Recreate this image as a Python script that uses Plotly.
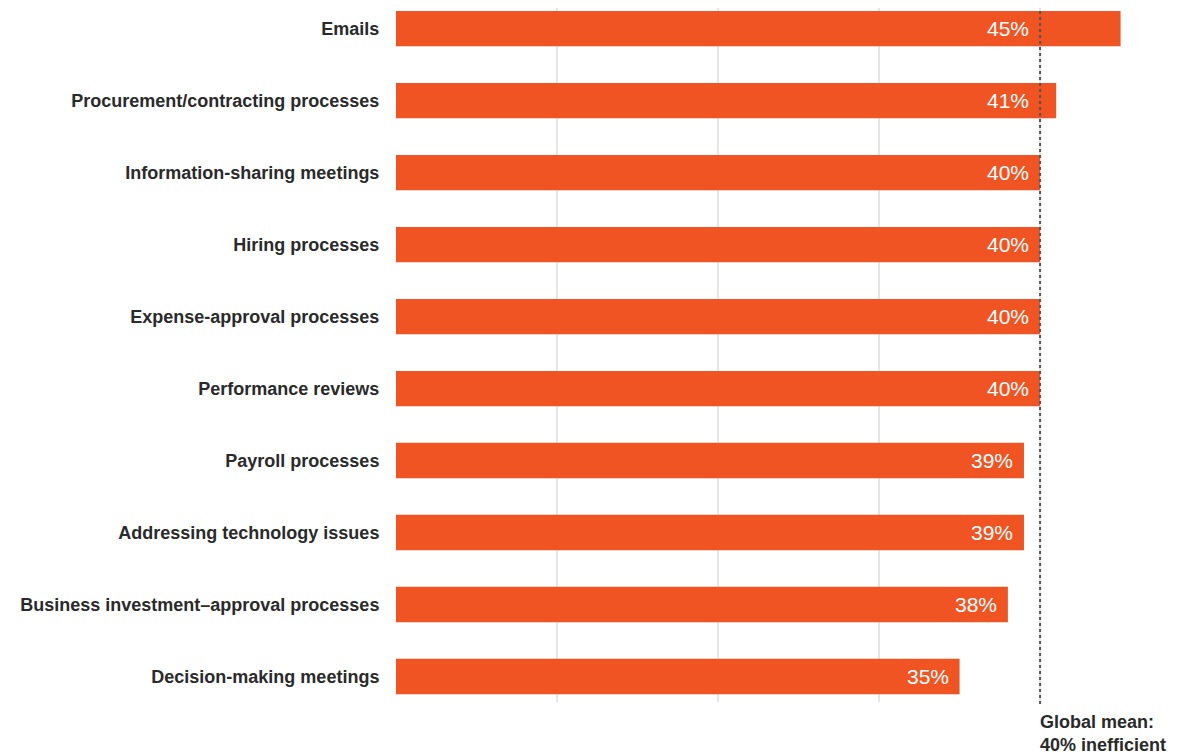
import plotly.graph_objects as go

categories = [
    "Emails",
    "Procurement/contracting processes",
    "Information-sharing meetings",
    "Hiring processes",
    "Expense-approval processes",
    "Performance reviews",
    "Payroll processes",
    "Addressing technology issues",
    "Business investment–approval processes",
    "Decision-making meetings",
]
values = [45, 41, 40, 40, 40, 40, 39, 39, 38, 35]
value_labels = [f"{v}%" for v in values]
global_mean = 40
mean_label = "Global mean:<br>40% inefficient"

ORANGE = "#F05423"
TEXT = "#2a2a2a"
FONT = "Liberation Sans, Arial, sans-serif"

fig = go.Figure()
fig.add_trace(go.Bar(
    y=categories,
    x=values,
    orientation="h",
    width=0.49,
    marker=dict(color=ORANGE, line=dict(width=0)),
    hoverinfo="skip",
))

# value labels sit inside the bar, never to the right of the global-mean line
for c, v, t in zip(categories, values, value_labels):
    fig.add_annotation(
        x=min(v, global_mean), y=c, xref="x", yref="y", text=t, showarrow=False,
        xanchor="right", xshift=-9, yshift=0,
        font=dict(family=FONT, size=21, color="white"),
    )

fig.add_shape(
    type="line", xref="x", yref="paper",
    x0=global_mean, x1=global_mean, y0=-0.003, y1=1.0,
    line=dict(color="#555555", width=2, dash="3px,3px"),
    layer="above",
)
fig.add_annotation(
    x=global_mean, y=0, xref="x", yref="paper", text=mean_label,
    showarrow=False, xanchor="left", yanchor="top", align="left",
    xshift=-2, yshift=-8,
    font=dict(family=FONT, size=18, color=TEXT, weight="bold"),
)

n = len(categories)
fig.update_layout(
    width=1182, height=748,
    margin=dict(l=388, r=5, t=0, b=54),
    paper_bgcolor="white", plot_bgcolor="white",
    showlegend=False,
    font=dict(family=FONT, color=TEXT),
    xaxis=dict(
        range=[0, 49], tickvals=[0, 10, 20, 30, 40], showticklabels=False,
        showgrid=True, gridcolor="#e6e6e6", gridwidth=2,
        zeroline=False, showline=False, fixedrange=True,
    ),
    yaxis=dict(
        range=[n - 1 + 0.354, -0.285],
        tickfont=dict(family=FONT, size=18, color=TEXT, weight="bold"),
        ticks="outside", ticklen=12, tickcolor="rgba(0,0,0,0)",
        showgrid=False, zeroline=False, showline=False, fixedrange=True,
    ),
)

fig.write_html("out.html")
